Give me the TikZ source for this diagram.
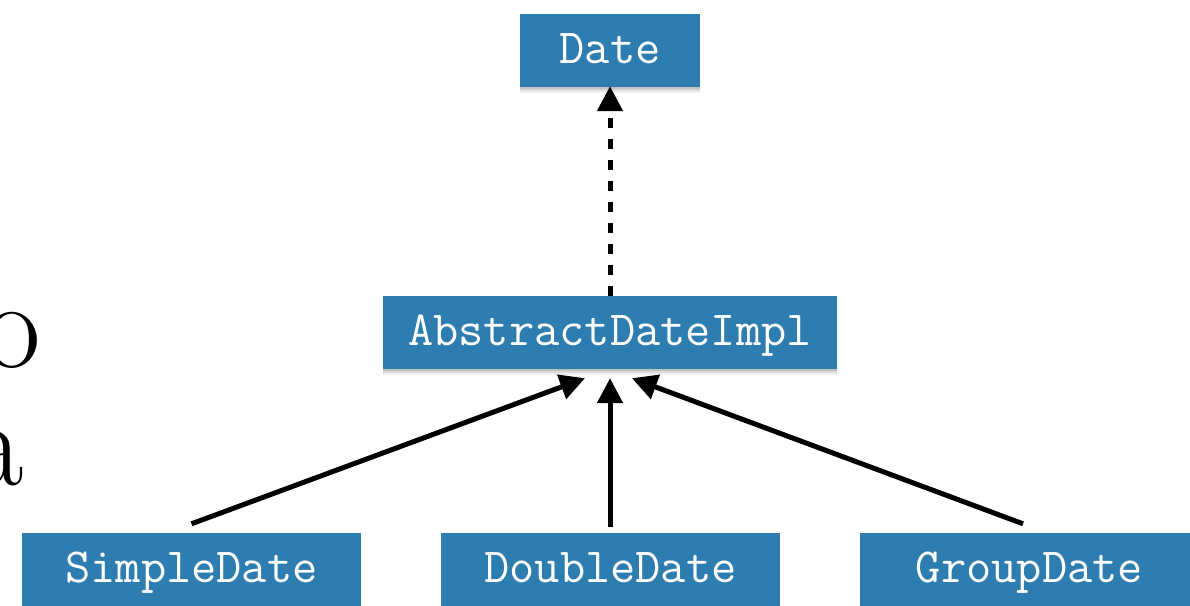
\documentclass[tikz,border=0pt]{standalone}
\usetikzlibrary{arrows.meta,shadows}
\definecolor{boxblue}{RGB}{46,125,176}
\begin{document}
\begin{tikzpicture}[x=1pt,y=-1pt,
  classbox/.style={fill=boxblue, draw=none, inner sep=0pt, minimum height=73pt,
    text height=30pt, text depth=5pt,
    text=white, font=\ttfamily\fontsize{49pt}{54pt}\selectfont,
    general shadow={shadow xshift=0pt, shadow yshift=-2pt, fill=black, opacity=0.12},
    general shadow={shadow xshift=0pt, shadow yshift=-4pt, fill=black, opacity=0.09},
    general shadow={shadow xshift=0pt, shadow yshift=-6pt, fill=black, opacity=0.06}},
  inherit/.style={line width=5pt, -{Triangle[length=25pt,width=25pt]}},
  realize/.style={inherit, dash pattern=on 10pt off 11pt},
  bgletter/.style={inner sep=0pt, anchor=base east, font=\fontsize{125pt}{140pt}\selectfont}]
\useasboundingbox (0,0) rectangle (1190,605);
\clip (0,0) rectangle (1190,605);
\node[bgletter] (lo) at (41,367) {o};
\node[bgletter] (la) at (24,485) {a};
\node[classbox, minimum width=180pt] (date) at (610,50.5) {Date};
\node[classbox, minimum width=454pt] (adi) at (610,332.5) {AbstractDateImpl};
\node[classbox, minimum width=339pt] (sd) at (191.5,569.5) {SimpleDate};
\node[classbox, minimum width=339pt] (dd) at (610.5,569.5) {DoubleDate};
\node[classbox, minimum width=339pt] (gd) at (1029.5,569.5) {GroupDate};
\draw[realize] (adi.north) -- ([yshift=1pt]date.south);
\draw[inherit] ([yshift=9pt]sd.north) -- ([xshift=-25pt,yshift=-9pt]adi.south);
\draw[inherit] ([xshift=-0.5pt,yshift=6pt]dd.north) -- ([yshift=-9pt]adi.south);
\draw[inherit] ([xshift=-6.5pt,yshift=9pt]gd.north) -- ([xshift=22pt,yshift=-9pt]adi.south);
\end{tikzpicture}
\end{document}
